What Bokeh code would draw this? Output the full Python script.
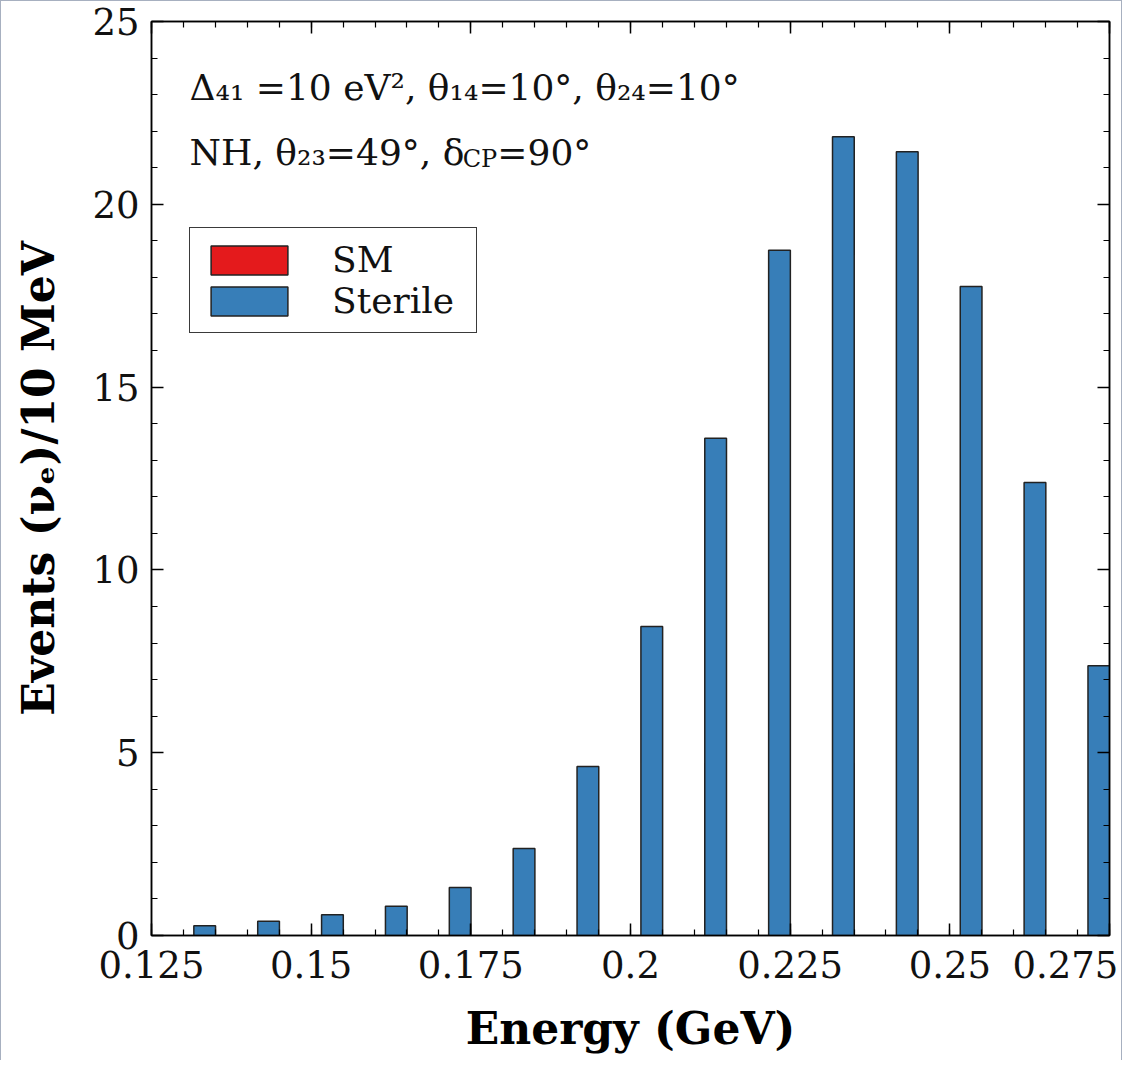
from bokeh.plotting import figure
from bokeh.models import (FixedTicker, LinearAxis, Range1d, Label, Legend,
                          LegendItem, ColumnDataSource)
from bokeh.transform import dodge
from bokeh.embed import file_html
from bokeh.resources import INLINE

# ---------------- data ----------------
energy = [0.13, 0.14, 0.15, 0.16, 0.17, 0.18, 0.19, 0.20,
          0.21, 0.22, 0.23, 0.24, 0.25, 0.26, 0.27]
sterile_events = [0.27, 0.39, 0.57, 0.80, 1.31, 2.38, 4.62, 8.45,
                  13.6, 18.74, 21.85, 21.44, 17.75, 12.39, 7.38]
# SM bars are completely hidden behind the sterile bars: values not readable
sm_events = [float("nan")] * len(energy)

x_ticks = [0.125, 0.15, 0.175, 0.2, 0.225, 0.25, 0.275]
x_tick_labels = ["0.125", "0.15", "0.175", "0.2", "0.225", "0.25", "0.275"]
y_ticks = [0, 5, 10, 15, 20, 25]
y_tick_labels = ["0", "5", "10", "15", "20", "25"]

x_minor = [round(0.125 + 0.005 * i, 3) for i in range(31)]
y_minor = list(range(0, 26))

SM_COLOR = "#e41a1c"
STERILE_COLOR = "#377eb8"
TICK_FONT = "DejaVu Serif"

FRAME_H = 914
LAST_LABEL_SHIFT = 0.0069   # last tick label is pulled left to stay on canvas

p = figure(width=1122, height=1060,
           x_range=Range1d(0.125, 0.275), y_range=Range1d(0, 25),
           output_backend="svg", toolbar_location=None,
           min_border_left=150, min_border_right=14,
           min_border_top=20, min_border_bottom=126)
p.styles = {"border-left": "1.5px solid #a7b0c0",
            "border-top": "1.5px solid #a7b0c0",
            "border-right": "1.5px solid #a7b0c0"}
p.grid.visible = False
p.outline_line_color = "black"
p.outline_line_width = 1.5
p.background_fill_color = "white"
p.border_fill_color = "white"

bar_w = 0.0034
src = ColumnDataSource(dict(energy=energy, sterile=sterile_events,
                            sm=sm_events))

sm_r = p.vbar(x="energy", top="sm", bottom=0, width=bar_w, source=src,
              fill_color=SM_COLOR, line_color="#222222", line_width=1.5)
st_r = p.vbar(x=dodge("energy", 0.00333), top="sterile", bottom=0,
              width=bar_w, source=src, fill_color=STERILE_COLOR,
              line_color="#222222", line_width=1.5)


def style_axis(ax, ticks, minor, show_labels):
    ax.ticker = FixedTicker(ticks=ticks, minor_ticks=minor)
    ax.major_tick_in = 12
    ax.major_tick_out = 0
    ax.minor_tick_in = 6
    ax.minor_tick_out = 0
    ax.major_tick_line_width = 1.5
    ax.minor_tick_line_width = 1.2
    ax.axis_line_width = 1.5
    ax.axis_line_color = "black"
    ax.major_tick_line_color = "black"
    ax.minor_tick_line_color = "black"
    if not show_labels:
        ax.major_label_text_font_size = "0px"
        ax.major_label_standoff = 0


xax = p.xaxis[0]
yax = p.yaxis[0]
style_axis(xax, x_ticks, x_minor, False)     # tick marks only
style_axis(yax, y_ticks, y_minor, True)

# bottom labels come from a second axis without marks
label_pos = x_ticks[:-1] + [round(x_ticks[-1] - LAST_LABEL_SHIFT, 4)]
xlab = LinearAxis(ticker=FixedTicker(ticks=label_pos, minor_ticks=[]),
                  major_tick_in=0, major_tick_out=0,
                  minor_tick_in=0, minor_tick_out=0,
                  axis_line_color=None, major_tick_line_color=None,
                  minor_tick_line_color=None)
xlab.major_label_overrides = {t: l for t, l in zip(label_pos, x_tick_labels)}
p.add_layout(xlab, "below")

yax.major_label_overrides = {t: l for t, l in zip(y_ticks, y_tick_labels)}
for ax in (xlab, yax):
    ax.major_label_text_font = TICK_FONT
    ax.major_label_text_font_size = "37px"
    ax.major_label_text_color = "#111111"
    ax.axis_label_text_font = "DejaVu Serif"
    ax.axis_label_text_font_style = "bold"
    ax.axis_label_text_font_size = "44px"
    ax.axis_label_text_color = "black"

xlab.major_label_standoff = 15
yax.major_label_standoff = 12
xlab.axis_label = "Energy (GeV)"
yax.axis_label = "Events (\u03bd\u2091)/10 MeV"
xlab.axis_label_standoff = 22
yax.axis_label_standoff = 25

top_ax = LinearAxis()
style_axis(top_ax, x_ticks, x_minor, False)
right_ax = LinearAxis()
style_axis(right_ax, y_ticks, y_minor, False)
p.add_layout(top_ax, "above")
p.add_layout(right_ax, "right")

# ---------------- annotation text ----------------
ANN_FONT = "DejaVu Serif"
ANN_SIZE = 36
SUB_SIZE = 24
BASE_FIX = 15
# DejaVu Serif advance widths (em) used to chain the pieces of line 2
EM_W = {"N": 0.748, "H": 0.84, ",": 0.318, " ": 0.318, "\u03b8": 0.602,
        "\u2082": 0.41, "\u2083": 0.41, "=": 0.838, "\u00b0": 0.512,
        "\u03b4": 0.602, "C": 0.731, "P": 0.67}


def adv(text, size):
    return sum(EM_W.get(ch, 0.636) for ch in text) * size


def ann(text, x, y, size):
    p.add_layout(Label(x=x, y=y, x_units="screen", y_units="screen",
                       text=text, text_font=ANN_FONT,
                       text_font_size=f"{size}px",
                       text_baseline="alphabetic", text_color="#111111"))


y1 = FRAME_H - 80.5 + BASE_FIX
y2 = FRAME_H - 145.5 + BASE_FIX
ann("\u0394\u2084\u2081 =10 eV\u00b2, \u03b8\u2081\u2084=10\u00b0, "
    "\u03b8\u2082\u2084=10\u00b0", 38, y1, ANN_SIZE)

seg_a = "NH, \u03b8\u2082\u2083=49\u00b0, \u03b4"
seg_b = "CP"
seg_c = "=90\u00b0"
xa = 38
xb = xa + adv(seg_a, ANN_SIZE) + 3
xc = xb + adv(seg_b, SUB_SIZE) + 1
ann(seg_a, xa, y2, ANN_SIZE)
ann(seg_b, xb, y2 - 7, SUB_SIZE)
ann(seg_c, xc, y2, ANN_SIZE)

# ---------------- legend ----------------
legend = Legend(items=[LegendItem(label="SM", renderers=[sm_r]),
                       LegendItem(label="Sterile", renderers=[st_r])],
                location=(38, FRAME_H - 206 - 106), glyph_width=96,
                glyph_height=36, spacing=0, padding=11, margin=0,
                label_standoff=35, label_width=133,
                label_text_font="DejaVu Serif", label_text_font_size="36px",
                label_text_color="#111111",
                border_line_color="#3a3a3a", border_line_width=1.5,
                border_line_alpha=1.0,
                background_fill_color="white", background_fill_alpha=1.0)
p.add_layout(legend, "center")

open("out.html", "w").write(file_html(p, INLINE))
